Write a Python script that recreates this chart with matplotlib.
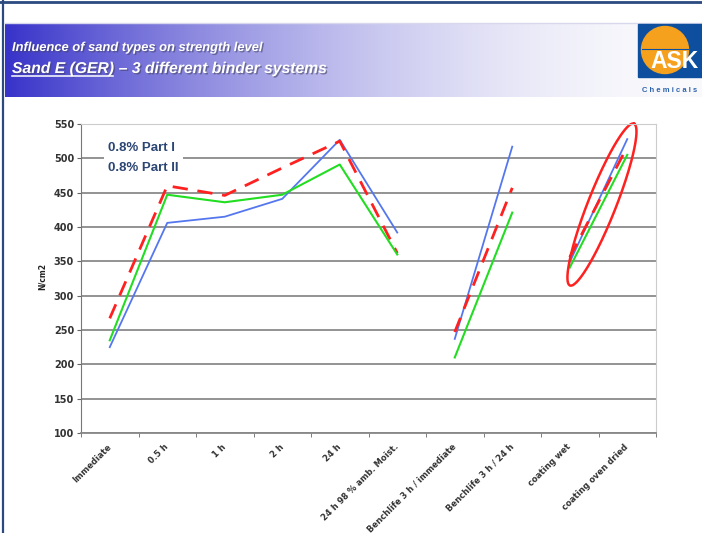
import numpy as np
import matplotlib.pyplot as plt
import matplotlib.patheffects as pe
from matplotlib.patches import Rectangle, Circle

# data (N/cm2)
categories = ['Immediate', '0.5 h', '1 h', '2 h', '24 h', '24 h 98 % amb. Moist.',
              'Benchlife 3 h / immediate', 'Benchlife 3 h / 24 h',
              'coating wet', 'coating oven dried']
blue_vals = [225, 406, 415, 441, 527, 392, 237, 517, 349, 528]
red_vals = [267, 460, 446, 486, 525, 362, 247, 457, 356, 517]
green_vals = [235, 447, 436, 447, 491, 360, 210, 421, 341, 505]
legend_labels = ['0.8% Part I', '0.8% Part II']
yticks = list(range(100, 551, 50))
groups = [(0, 6), (6, 8), (8, 10)]  # lines break between measurement blocks

W, H = 702, 533
fig = plt.figure(figsize=(W / 100, H / 100), dpi=100)

# overlay in pixel coords for the slide decoration
ov = fig.add_axes([0, 0, 1, 1])
ov.set_xlim(0, W)
ov.set_ylim(H, 0)
ov.axis('off')

# header gradient band
left = np.array([0.22, 0.20, 0.79])
t = np.linspace(0, 1, 400)
f = 1 - (1 - t) ** 1.8
grad = left[None, :] * (1 - f[:, None]) + np.array([0.98, 0.98, 0.99])[None, :] * f[:, None]
ov.imshow(grad[None, :, :], extent=(5, W, 97, 23), aspect='auto', zorder=1)
ov.plot([5, W], [23, 23], color='#d8d8ec', lw=1, zorder=2)

# page border
ov.plot([0, W], [2, 2], color='#2a4a80', lw=2, zorder=3)
ov.plot([2.5, 2.5], [0, H], color='#2a4a80', lw=1.6, zorder=3)

# title
shadow = [pe.withSimplePatchShadow(offset=(1, -1), shadow_rgbFace='#444466', alpha=0.6)]
tfont = dict(color='white', fontweight='bold', fontstyle='italic',
             family=['Liberation Sans Narrow', 'Liberation Sans', 'DejaVu Sans'])
ov.text(12, 51, 'Influence of sand types on strength level', fontsize=9.3,
        path_effects=shadow, zorder=4, **tfont)
t2 = ov.text(12, 73, 'Sand E (GER)', fontsize=11.3, path_effects=shadow, zorder=4, **tfont)
r = fig.canvas.get_renderer()
bb = t2.get_window_extent(r).transformed(ov.transData.inverted())
ov.plot([bb.x0, bb.x1 - 1], [75.5, 75.5], color='white', lw=1.1, zorder=4)
ov.text(bb.x1, 73, ' \u2013 3 different binder systems', fontsize=11.3,
        path_effects=shadow, zorder=4, **tfont)

# logo
ov.add_patch(Rectangle((638, 24), 64, 53, color='#0d4f9e', zorder=5))
ov.add_patch(Circle((665, 50), 23.5, color='#f5a11e', zorder=6))
ov.plot([642, 688], [49, 49], color='#0d4f9e', lw=0.8, zorder=7)
ov.text(675, 62, 'ASK', color='white', fontsize=16.5, fontweight='bold',
        ha='center', va='center', family='Liberation Sans', zorder=8)
ov.text(670, 90, 'C h e m i c a l s', color='#2d62ad', fontsize=5.5,
        ha='center', va='center', family='Liberation Sans', fontweight='bold', zorder=5)

# chart
ax = fig.add_axes([81 / W, 1 - 433 / H, 575 / W, 309 / H])
ax.set_facecolor('none')
x = np.arange(len(categories))
styles = [
    (blue_vals, dict(color='#5577ee', lw=1.3)),
    (red_vals, dict(color='#ff2020', lw=2.0, dashes=(5.5, 3.5))),
    (green_vals, dict(color='#22dd22', lw=1.5)),
]
for vals, kw in styles:
    v = np.array(vals, dtype=float)
    for a, b in groups:
        ax.plot(x[a:b], v[a:b], **kw)

ax.set_xlim(-0.5, len(categories) - 0.5)
ax.set_ylim(yticks[0], yticks[-1])
ax.set_yticks(yticks)
ax.set_xticks(x)
ax.set_xticks(np.arange(len(categories) + 1) - 0.5, minor=True)
ax.set_xticklabels(categories, rotation=45, ha='right', va='center',
                   rotation_mode='anchor', fontsize=6, fontweight='bold', color='#333333')
ax.tick_params(axis='x', which='major', length=0, pad=9)
ax.tick_params(axis='x', which='minor', length=3, color='#666666')
ax.tick_params(axis='y', length=3, color='#666666', labelsize=7, labelcolor='#333333', pad=2)
for lab in ax.get_yticklabels():
    lab.set_fontweight('bold')
ax.grid(axis='y', color='#8a8a8a', lw=1.3)
ax.set_axisbelow(True)
ax.spines['left'].set_color('#777777')
ax.spines['bottom'].set_color('#888888')
ax.spines['bottom'].set_linewidth(1.3)
ax.spines['top'].set_color('#cccccc')
ax.spines['right'].set_color('#cccccc')
ax.set_ylabel('N/cm2', fontsize=5.5, fontweight='bold', color='#222222')
ax.yaxis.set_label_coords(-34 / 575, 0.505)

# legend text block
ax.text(0.047, 0.89, legend_labels[0] + '\n' + legend_labels[1], transform=ax.transAxes,
        fontsize=9.5, fontweight='bold', color='#2c4674', va='center', linespacing=1.85,
        family=['Liberation Sans Narrow', 'Liberation Sans', 'DejaVu Sans'],
        bbox=dict(facecolor='white', edgecolor='none', pad=3))

# red ellipse around the coating results
idx = [8, 9]
cvals = [v[i] for v in (blue_vals, red_vals, green_vals) for i in idx]
px, py = ax.transData.transform((np.mean(idx) + 0.06, np.mean(cvals)))
p0 = ax.transData.transform((idx[0], blue_vals[idx[0]]))
p1 = ax.transData.transform((idx[1], blue_vals[idx[1]]))
ang = np.arctan2(p1[1] - p0[1], p1[0] - p0[0]) + np.radians(3.5)
tt = np.linspace(0, 2 * np.pi, 300)
ea, eb = 87, 14
ex = px + ea * np.cos(tt) * np.cos(ang) - eb * np.sin(tt) * np.sin(ang)
ey = py + ea * np.cos(tt) * np.sin(ang) + eb * np.sin(tt) * np.cos(ang)
ed = ax.transData.inverted().transform(np.column_stack([ex, ey]))
ax.plot(ed[:, 0], ed[:, 1], color='#ff2020', lw=1.8, clip_on=False)

fig.savefig('out.png', dpi=100)
